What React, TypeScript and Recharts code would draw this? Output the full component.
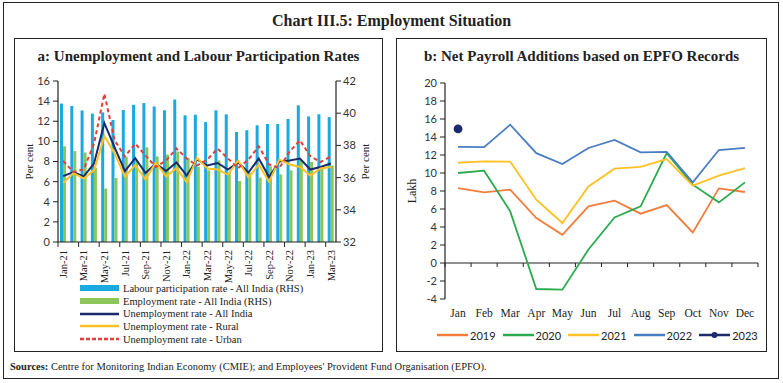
import { Bar, ComposedChart, Legend, Line, ReferenceLine, XAxis, YAxis } from 'recharts';

// panel a: CMIE monthly rates, Jan-21 to Mar-23
const months = [
  'Jan-21', 'Feb-21', 'Mar-21', 'Apr-21', 'May-21', 'Jun-21', 'Jul-21', 'Aug-21', 'Sep-21',
  'Oct-21', 'Nov-21', 'Dec-21', 'Jan-22', 'Feb-22', 'Mar-22', 'Apr-22', 'May-22', 'Jun-22',
  'Jul-22', 'Aug-22', 'Sep-22', 'Oct-22', 'Nov-22', 'Dec-22', 'Jan-23', 'Feb-23', 'Mar-23'
];
const lprAll = [
  40.6, 40.45, 40.17, 39.98, 40.05, 39.58, 40.2, 40.52, 40.63, 40.42, 40.18, 40.85, 39.87, 39.91,
  39.45, 40.18, 39.93, 38.83, 38.94, 39.25, 39.33, 39.33, 39.64, 40.49, 39.8, 39.93, 39.76
];
const erAll = [
  37.95, 37.64, 37.56, 36.6, 35.32, 35.97, 37.28, 37.1, 37.88, 37.32, 37.43, 37.62, 37.22, 36.66,
  36.45, 37.07, 36.35, 35.79, 36.3, 36.0, 36.7, 36.2, 36.45, 37.1, 36.97, 36.7, 36.74
];
const ueAll = [
  6.55, 6.95, 6.52, 7.8, 11.82, 9.4, 7.05, 8.33, 6.86, 7.8, 7.05, 7.9, 6.6, 8.2, 7.6, 7.85, 7.2,
  7.9, 6.9, 8.3, 6.46, 8.0, 8.1, 8.3, 7.2, 7.45, 7.8
];
const ueRural = [
  5.86, 6.86, 6.3, 7.12, 10.53, 8.8, 6.5, 7.65, 6.2, 7.9, 6.5, 7.35, 5.95, 8.38, 7.3, 7.2, 6.7,
  8.1, 6.4, 7.7, 5.97, 8.2, 7.7, 7.45, 6.6, 7.3, 7.45
];
const ueUrban = [
  8.05, 6.97, 7.22, 9.78, 14.73, 10.1, 8.5, 9.78, 8.6, 7.45, 8.1, 9.3, 8.3, 7.6, 8.2, 9.28, 8.3,
  7.35, 8.2, 9.5, 7.7, 7.35, 9.0, 10.1, 8.55, 7.95, 8.5
];
const leftTicks = [0, 2, 4, 6, 8, 10, 12, 14, 16];
const rightTicks = [32, 33, 34, 35, 36, 37, 38, 39, 40, 41, 42];

// panel b: EPFO net payroll additions (lakh)
const monthNames = ['Jan', 'Feb', 'Mar', 'Apr', 'May', 'Jun', 'Jul', 'Aug', 'Sep', 'Oct', 'Nov', 'Dec'];
const y2019 = [8.33, 7.85, 8.15, 5.0, 3.14, 6.3, 6.92, 5.48, 6.44, 3.4, 8.29, 7.89];
const y2020 = [10.0, 10.26, 5.74, -2.89, -2.96, 1.5, 5.07, 6.29, 12.2, 8.7, 6.74, 8.96];
const y2021 = [11.14, 11.3, 11.26, 7.03, 4.44, 8.5, 10.48, 10.67, 11.55, 8.6, 9.7, 10.55];
const y2022 = [12.9, 12.88, 15.37, 12.2, 11.0, 12.78, 13.67, 12.3, 12.35, 8.96, 12.55, 12.8];
const y2023 = [14.9, null, null, null, null, null, null, null, null, null, null, null];
const payrollTicks = [-4, -2, 0, 2, 4, 6, 8, 10, 12, 14, 16, 18, 20];

const leftData = months.map((m, i) => ({
  month: m, lpr: lprAll[i], er: erAll[i], ue: ueAll[i], rural: ueRural[i], urban: ueUrban[i]
}));
const rightData = monthNames.map((m, i) => ({
  month: m, a: y2019[i], b: y2020[i], c: y2021[i], d: y2022[i], e: y2023[i]
}));

const SERIF = '"Liberation Serif", serif';
const SANS = 'Lato, "Liberation Sans", sans-serif';
const INK = '#222';

const leftLegend = [
  { label: 'Labour participation rate - All India (RHS)', color: '#1BA9E1', kind: 'bar' },
  { label: 'Employment rate - All India (RHS)', color: '#8CC65A', kind: 'bar' },
  { label: 'Unemployment rate - All India', color: '#1B2A6B', kind: 'line' },
  { label: 'Unemployment rate - Rural', color: '#FFC125', kind: 'line' },
  { label: 'Unemployment rate - Urban', color: '#E0403A', kind: 'dash' }
];
const rightLegend = [
  { label: '2019', color: '#F47C3C', dot: false },
  { label: '2020', color: '#2BAA4F', dot: false },
  { label: '2021', color: '#FFC125', dot: false },
  { label: '2022', color: '#4A7DC2', dot: false },
  { label: '2023', color: '#1B2A6B', dot: true }
];

// axis line along the zero value with tick marks at category boundaries
const baseline = (n: number, every: number, len: number) => (p: any) => {
  const { x1, y1, x2 } = p;
  const w = (x2 - x1) / n;
  const marks = [];
  for (let k = 0; k <= n; k += every) {
    marks.push(<line key={k} x1={x1 + k * w} x2={x1 + k * w} y1={y1} y2={y1 + len} stroke={INK} strokeWidth={1} />);
  }
  return (
    <g>
      <line x1={x1} y1={y1} x2={x2} y2={y1} stroke={INK} strokeWidth={1.2} />
      {marks}
    </g>
  );
};

const RotTick = (props: any) => {
  const { x, y, payload } = props;
  return (
    <text x={x} y={y} transform={`rotate(-90 ${x} ${y})`} textAnchor="end" dy="0.35em"
      fontFamily={SERIF} fontSize={10.5} fill={INK}>
      {payload.value}
    </text>
  );
};

const LeftLegendBox = () => (
  <div style={{ height: 68, paddingTop: 4, boxSizing: 'border-box' }}>
    {leftLegend.map((it) => (
      <div key={it.label} style={{ height: 12.7, display: 'flex', alignItems: 'center' }}>
        <svg width={39} height={8}>
          {it.kind === 'bar' && <rect x={0} y={1} width={39} height={6} fill={it.color} />}
          {it.kind === 'line' && <line x1={0} x2={39} y1={4} y2={4} stroke={it.color} strokeWidth={2.5} />}
          {it.kind === 'dash' && (
            <line x1={0} x2={39} y1={4} y2={4} stroke={it.color} strokeWidth={2.5} strokeDasharray="4 2" />
          )}
        </svg>
        <span style={{ marginLeft: 4, fontFamily: SERIF, fontSize: 10.5, color: INK, whiteSpace: 'nowrap' }}>
          {it.label}
        </span>
      </div>
    ))}
  </div>
);

const RightLegendBox = () => (
  <div style={{ height: 24, display: 'flex', alignItems: 'center' }}>
    {rightLegend.map((it) => (
      <div key={it.label} style={{ display: 'flex', alignItems: 'center', marginRight: 7 }}>
        <svg width={31} height={8}>
          <line x1={0} x2={31} y1={4} y2={4} stroke={it.color} strokeWidth={2.5} />
          {it.dot && <circle cx={15.5} cy={4} r={3} fill={it.color} />}
        </svg>
        <span style={{ marginLeft: 2, fontFamily: SANS, fontSize: 11, color: INK }}>{it.label}</span>
      </div>
    ))}
  </div>
);

const tickStyle = { fontFamily: SANS, fontSize: 11, fill: '#333' };
const axisLine = { stroke: INK, strokeWidth: 1.2 };

const UnemploymentChart = () => (
  <ComposedChart width={376} height={310} data={leftData} barGap={0}
    margin={{ top: 41, right: 0, bottom: 4, left: 0 }}>
    <XAxis dataKey="month" interval={1} tick={<RotTick />} tickLine={false} axisLine={false} height={36} />
    <YAxis yAxisId="left" domain={[0, 16]} ticks={leftTicks} width={48} tick={tickStyle}
      tickSize={5} tickMargin={3} axisLine={axisLine} tickLine={{ stroke: INK }}
      label={{ value: 'Per cent', angle: -90, position: 'insideLeft', offset: 19,
        style: { textAnchor: 'middle', fontFamily: SERIF, fontSize: 11, fill: INK } }} />
    <YAxis yAxisId="right" orientation="right" domain={[32, 42]} ticks={rightTicks} width={50}
      tick={tickStyle} tickSize={5} tickMargin={2} axisLine={axisLine} tickLine={{ stroke: INK }}
      label={{ value: 'Per cent', angle: -90, position: 'insideRight', offset: 21,
        style: { textAnchor: 'middle', fontFamily: SERIF, fontSize: 11, fill: INK } }} />
    <Bar yAxisId="right" dataKey="lpr" fill="#1BA9E1" barSize={3} isAnimationActive={false} />
    <Bar yAxisId="right" dataKey="er" fill="#8CC65A" barSize={3} isAnimationActive={false} />
    <ReferenceLine yAxisId="left" y={0} shape={baseline(27, 2, 5)} />
    <Line yAxisId="left" dataKey="ue" stroke="#1B2A6B" strokeWidth={2} dot={false} isAnimationActive={false} />
    <Line yAxisId="left" dataKey="rural" stroke="#FFC125" strokeWidth={2} dot={false} isAnimationActive={false} />
    <Line yAxisId="left" dataKey="urban" stroke="#E0403A" strokeWidth={2} strokeDasharray="4 3" dot={false}
      isAnimationActive={false} />
    <Legend verticalAlign="bottom" content={<LeftLegendBox />} wrapperStyle={{ left: 70, width: 300 }} />
  </ComposedChart>
);

const PayrollChart = () => (
  <ComposedChart width={383} height={311} data={rightData} margin={{ top: 43, right: 20, bottom: 4, left: 0 }}>
    <XAxis dataKey="month" scale="band" tickLine={false} axisLine={false} height={24} tickMargin={4}
      tick={{ fontFamily: SERIF, fontSize: 11.5, fill: INK }} />
    <YAxis domain={[-4, 20]} ticks={payrollTicks} width={50} tick={tickStyle} tickSize={5} tickMargin={3}
      axisLine={axisLine} tickLine={{ stroke: INK }}
      label={{ value: 'Lakh', angle: -90, position: 'insideLeft', offset: 17,
        style: { textAnchor: 'middle', fontFamily: SERIF, fontSize: 12, fill: INK } }} />
    <ReferenceLine y={0} shape={baseline(12, 1, 4)} />
    <Line dataKey="a" stroke="#F47C3C" strokeWidth={1.8} dot={false} isAnimationActive={false} />
    <Line dataKey="b" stroke="#2BAA4F" strokeWidth={1.8} dot={false} isAnimationActive={false} />
    <Line dataKey="c" stroke="#FFC125" strokeWidth={1.8} dot={false} isAnimationActive={false} />
    <Line dataKey="d" stroke="#4A7DC2" strokeWidth={1.8} dot={false} isAnimationActive={false} />
    <Line dataKey="e" stroke="#1B2A6B" strokeWidth={1.8} dot={{ r: 3.5, fill: '#1B2A6B', stroke: '#1B2A6B' }}
      isAnimationActive={false} />
    <Legend verticalAlign="bottom" content={<RightLegendBox />} wrapperStyle={{ left: 42, width: 340 }} />
  </ComposedChart>
);

const box = (left: number, top: number, width: number, height: number): React.CSSProperties => ({
  position: 'absolute', left, top, width, height, border: `1.5px solid ${INK}`, boxSizing: 'border-box'
});

export default function App() {
  return (
    <div style={{ position: 'absolute', left: 0, top: 0, width: 783, height: 383, background: '#fff',
      fontFamily: SERIF, color: INK }}>
      <div style={box(3, 2, 776, 377)} />
      <div style={{ position: 'absolute', left: 0, width: 783, top: 12, textAlign: 'center', fontSize: 16,
        fontWeight: 700 }}>
        Chart III.5: Employment Situation
      </div>
      <div style={box(14, 38, 369, 314)} />
      <div style={box(396, 38, 371, 314)} />
      <div style={{ position: 'absolute', left: 14, width: 369, top: 48, textAlign: 'center', fontSize: 15,
        fontWeight: 700 }}>
        a: Unemployment and Labour Participation Rates
      </div>
      <div style={{ position: 'absolute', left: 396, width: 371, top: 48, textAlign: 'center', fontSize: 15,
        fontWeight: 700 }}>
        b: Net Payroll Additions based on EPFO Records
      </div>
      <div style={{ position: 'absolute', left: 10, top: 40 }}>
        <UnemploymentChart />
      </div>
      <div style={{ position: 'absolute', left: 395, top: 40 }}>
        <PayrollChart />
      </div>
      <div style={{ position: 'absolute', left: 10, top: 361, fontSize: 10.5, whiteSpace: 'nowrap' }}>
        <b>Sources:</b> Centre for Monitoring Indian Economy (CMIE); and Employees' Provident Fund Organisation (EPFO).
      </div>
    </div>
  );
}
